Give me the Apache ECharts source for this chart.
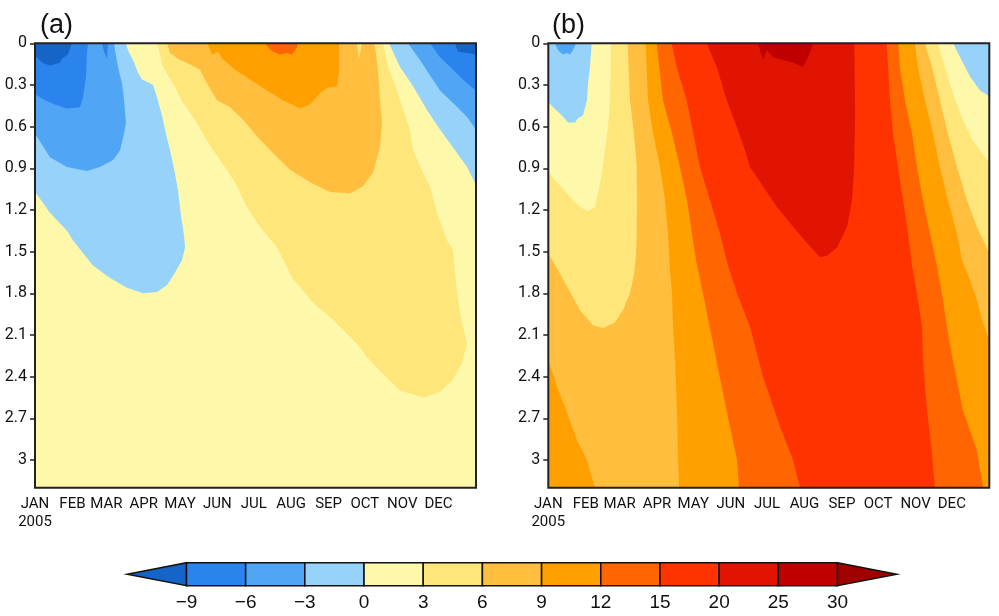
<!DOCTYPE html>
<html><head><meta charset="utf-8">
<script src="https://cdn.jsdelivr.net/npm/echarts@6/dist/echarts.min.js"></script>
<style>html,body{margin:0;padding:0;background:#fff}#c{width:999px;height:616px}</style>
</head><body><div id="c"></div>
<script>
// ---------- axes / ticks ----------
const monthStarts = [0,31,59,90,120,151,181,212,243,273,304,334];
const monthLabels = ['JAN','FEB','MAR','APR','MAY','JUN','JUL','AUG','SEP','OCT','NOV','DEC'];
const yearLabel = '2005';
const dayMin = 0, dayMax = 365;
const depthMin = 0, depthMax = 3.2;
const depthTicks = [0,0.3,0.6,0.9,1.2,1.5,1.8,2.1,2.4,2.7,3];
const depthTickLabels = ['0','0.3','0.6','0.9','1.2','1.5','1.8','2.1','2.4','2.7','3'];

// ---------- contour levels / colour bar ----------
const levelLabels = ['\u22129','\u22126','\u22123','0','3','6','9','12','15','20','25','30'];
// band 0: < -9 ... band 12: > 30
const levelColors = ['#1565C8','#2B84EE','#50A5F5','#97D2FA','#FEF8AA','#FFE67A','#FFBE3E','#FFA000','#FF6500','#FF3300','#E01400','#C00000','#A00000'];

// ---------- panel (a): contour regions, [day of year, depth] ----------
const a_ge3 = [[101,0],[105.9,0.17],[114.2,0.29],[122.5,0.43],[130.8,0.53],[139,0.65],[147.3,0.77],[158.9,0.91],[167.2,1.03],[175.5,1.18],[186.2,1.32],[200.3,1.47],[208.6,1.61],[213.5,1.7],[219.3,1.75],[230.1,1.87],[246.6,1.99],[267.3,2.17],[274.8,2.26],[288,2.38],[302.1,2.5],[321.1,2.55],[335.2,2.51],[346,2.42],[353.4,2.3],[357.6,2.16],[353.4,2.01],[350.1,1.85],[347.6,1.65],[346,1.49],[341,1.42],[332.7,1.22],[326.9,1.03],[321.1,0.93],[312.9,0.77],[310.4,0.62],[304.6,0.48],[299.6,0.34],[292.2,0.17],[288,0]];
const a_ge6 = [[109.3,0],[111.7,0.07],[120,0.12],[125.8,0.14],[136.6,0.19],[142.4,0.29],[150.6,0.41],[161.4,0.46],[172.2,0.55],[183.7,0.67],[197,0.79],[211.1,0.91],[227.6,1.0],[244.2,1.07],[260.7,1.08],[271.5,1.03],[279.8,0.93],[285.5,0.75],[287.2,0.57],[285.5,0.41],[283.9,0.21],[282.2,0.07],[280.6,0]];
const a_lt6_spike = [[266.5,0],[268.1,0.12],[270.6,0]];
const a_ge9 = [[142.4,0],[146.5,0.08],[151.5,0.06],[154.8,0.11],[165.5,0.19],[178,0.26],[192,0.34],[205.3,0.41],[219.3,0.47],[227.6,0.44],[235.9,0.36],[241.7,0.32],[249.9,0.31],[251.6,0.21],[251.6,0]];
const a_ge12 = [[190.4,0],[194,0.04],[197,0.06],[202.8,0.08],[208.6,0.07],[212.7,0.08],[216.8,0.03],[217.7,0]];
const a_lt0_left = [[0,0],[75.3,0],[77,0.05],[81.1,0.12],[85.2,0.21],[88.6,0.26],[93.5,0.28],[97.7,0.3],[101,0.39],[105.1,0.52],[107.6,0.62],[111.7,0.77],[115,0.9],[118.4,1.06],[120.8,1.24],[123.3,1.38],[124.2,1.47],[121.7,1.56],[115.9,1.65],[109.3,1.74],[101,1.79],[89.4,1.8],[76.1,1.76],[62.1,1.69],[48,1.6],[39.7,1.51],[31.5,1.42],[26.5,1.35],[12.4,1.22],[0.8,1.08],[0,1.08]];
const a_ltm3_left = [[0,0],[65.4,0],[66.2,0.05],[68.7,0.17],[72,0.29],[73.7,0.41],[75.3,0.57],[73.7,0.65],[70.4,0.77],[64.6,0.84],[53.8,0.89],[43,0.92],[26.5,0.89],[12.4,0.82],[0.8,0.66],[0,0.66]];
const a_ltm6_left = [[0,0],[43.9,0],[43,0.07],[42.2,0.24],[39.7,0.39],[37.2,0.46],[26.5,0.47],[16.6,0.44],[8.3,0.41],[0.8,0.37],[0,0.37]];
const a_ltm6_patch = [[55.5,0],[57.1,0.06],[59.6,0.11],[60.4,0]];
const a_ltm9_left = [[0,0],[0,0.1],[1.7,0.1],[5.8,0.14],[12.4,0.16],[20.7,0.14],[22.3,0.11],[27.3,0.08],[30.6,0]];
const a_lt0_right = [[293,0],[302.1,0.17],[312.9,0.31],[324.4,0.48],[335.2,0.62],[346,0.75],[357.6,0.89],[365,1.02],[365,0]];
const a_ltm3_right = [[308.7,0],[318.6,0.12],[326.9,0.23],[335.2,0.34],[346,0.43],[357.6,0.53],[365,0.62],[365,0]];
const a_ltm6_right = [[326.9,0],[335.2,0.1],[346,0.19],[357.6,0.29],[365,0.34],[365,0]];
const a_ltm9_right = [[347.6,0],[350.1,0.06],[357.6,0.07],[365,0.08],[365,0]];

// ---------- panel (b): contour regions, [day of year, depth] ----------
const b_lt0_left = [[0,0],[35.9,0],[34.5,0.17],[32.9,0.29],[32,0.41],[28.7,0.52],[24.6,0.54],[22.1,0.57],[16.3,0.57],[11.3,0.52],[3.9,0.46],[0,0.42]];
const b_ltm3_left = [[5.5,0],[8,0.05],[12.2,0.08],[15.5,0.07],[18,0.08],[20.4,0.05],[22.9,0]];
const b_lt0_right = [[335,0],[340.8,0.1],[349.1,0.24],[357.4,0.34],[363.1,0.37],[365,0.39],[365,0]];
const b_ge3 = [[51.9,0],[51.6,0.17],[51.1,0.41],[49.4,0.6],[46.9,0.77],[44.4,0.93],[41.1,1.08],[38.6,1.18],[32,1.21],[23.8,1.16],[15.5,1.08],[7.2,1.0],[0,0.93],[0,3.2],[365,3.2],[365,0.86],[351.3,0.7],[343.1,0.55],[334.8,0.36],[328.2,0.17],[322.4,0]];
const b_ge6 = [[65.7,0],[67.6,0.41],[70.9,0.65],[73.2,0.89],[73.4,1.13],[73.2,1.37],[72.6,1.52],[70.9,1.67],[67.6,1.8],[61.8,1.92],[55.2,2.01],[45.3,2.05],[37,2.03],[26.2,1.92],[15.5,1.75],[3.9,1.57],[0,1.52],[0,3.2],[365,3.2],[365,1.51],[354.7,1.32],[346.5,1.13],[338.2,0.89],[330.7,0.65],[324.1,0.41],[317.5,0.17],[311.7,0]];
const b_ge9 = [[80.6,0],[82.5,0.41],[86.7,0.65],[92.5,0.89],[96.6,1.13],[99.1,1.37],[100.7,1.63],[102.4,1.8],[103.2,2.04],[104.9,2.28],[106.5,2.64],[107.3,2.95],[108.2,3.2],[365,3.2],[365,2.14],[359.8,2.01],[354.7,1.85],[348.9,1.7],[342.3,1.56],[338.2,1.37],[330.7,1.13],[324.1,0.89],[318.4,0.65],[311.7,0.41],[305.9,0.17],[303.4,0]];
const b_ge9_corner = [[0,2.28],[7.2,2.47],[15.5,2.66],[23.8,2.86],[32,3.0],[38.6,3.2],[0,3.2]];
const b_ge12 = [[89.7,0],[94.9,0.41],[102.4,0.65],[109,0.89],[114.8,1.13],[118.9,1.37],[122.2,1.56],[128,1.8],[136.3,2.16],[144.6,2.52],[150.4,2.76],[156.2,3.0],[157.8,3.2],[359.8,3.2],[354.7,2.93],[343.1,2.64],[334.8,2.28],[329.9,2.04],[325.8,1.8],[321.6,1.6],[315.9,1.37],[310.1,1.13],[305.1,0.89],[301,0.65],[295.2,0.41],[291,0.17],[289.7,0]];
const b_ge15 = [[102.1,0],[106.3,0.17],[114.5,0.41],[120,0.65],[125.5,0.89],[133.8,1.13],[142.1,1.37],[148.7,1.6],[156.2,1.8],[166.9,2.04],[177.7,2.4],[191.8,2.76],[202.6,3.0],[208.3,3.2],[320,3.2],[317.5,2.95],[313.4,2.64],[310.1,2.28],[309.3,2.04],[305.1,1.8],[301,1.6],[297.7,1.37],[293.6,1.13],[289.4,0.89],[285.3,0.65],[282.8,0.41],[280.1,0]];
const b_ge20 = [[131.1,0],[139.4,0.17],[147.7,0.41],[155.9,0.6],[162.8,0.77],[166.9,0.89],[177.7,1.03],[189.3,1.18],[202.6,1.32],[214.2,1.44],[224.9,1.54],[230.7,1.53],[239,1.47],[247.3,1.32],[251.4,1.13],[253.1,0.89],[253.9,0.53],[253.3,0]];
const b_ge25 = [[173.6,0],[175.2,0.05],[177.7,0.12],[181,0.05],[186,0.1],[194.2,0.12],[202.6,0.14],[210.8,0.17],[215,0.1],[218.3,0.03],[219.1,0]];

// layer lists: [region, colour band]
const panelA = [[a_ge3,5],[a_ge6,6],[a_lt6_spike,5],[a_ge9,7],[a_ge12,8],[a_lt0_left,3],[a_ltm3_left,2],[a_ltm6_left,1],[a_ltm6_patch,1],[a_ltm9_left,0],[a_lt0_right,3],[a_ltm3_right,2],[a_ltm6_right,1],[a_ltm9_right,0]];
const panelB = [[b_lt0_left,3],[b_ltm3_left,2],[b_lt0_right,3],[b_ge3,5],[b_ge6,6],[b_ge9,7],[b_ge9_corner,7],[b_ge12,8],[b_ge15,9],[b_ge20,10],[b_ge25,11]];
const backgroundBand = 4;

// ---------- build chart ----------
const chart = echarts.init(document.getElementById('c'), null, {renderer:'canvas'});
const TXT = '#111';
const AXFONT = "Roboto, 'Liberation Sans', sans-serif";
const pxPerDepth = 138.9;
const plotH = (depthMax - depthMin) * pxPerDepth;

function grid(left){ return {left:left, top:43.3, width:441, height:plotH, show:true, borderColor:'#222', borderWidth:2, backgroundColor:'transparent', z:10}; }

function xMain(gi){
  return {type:'value', gridIndex:gi, min:dayMin, max:dayMax,
    axisLine:{show:false}, splitLine:{show:false},
    axisTick:{show:true, customValues:monthStarts, length:4, lineStyle:{color:'#222', width:1.5}},
    axisLabel:{customValues:monthStarts, margin:7, color:TXT, fontFamily:AXFONT, fontSize:15, lineHeight:18,
      formatter:function(v){ const i = monthStarts.indexOf(v); return i === 0 ? monthLabels[0] + '\n' + yearLabel : monthLabels[i]; }}};
}
function yMain(gi){
  return {type:'value', gridIndex:gi, min:depthMin, max:depthMax, inverse:true,
    axisLine:{show:false}, splitLine:{show:false},
    axisTick:{show:true, customValues:depthTicks, length:5, lineStyle:{color:'#222', width:1.5}},
    axisLabel:{customValues:depthTicks, margin:8, color:TXT, fontFamily:AXFONT, fontSize:16,
      formatter:function(v){ const i = depthTicks.findIndex(t => Math.abs(t - v) < 1e-6); return i >= 0 ? depthTickLabels[i] : ''; }}};
}
function polySeries(gi, pts, band){
  return {type:'custom', coordinateSystem:'cartesian2d', xAxisIndex:gi, yAxisIndex:gi, data:pts, silent:true, clip:true, animation:false,
    renderItem:function(params, api){
      if (params.dataIndex !== 0) return;
      const points = pts.map(p => api.coord(p));
      return {type:'polygon', shape:{points:points}, style:{fill:levelColors[band], stroke:null}};
    }};
}
function panelSeries(gi, layers){
  const bg = [[dayMin,depthMin],[dayMax,depthMin],[dayMax,depthMax],[dayMin,depthMax]];
  const out = [polySeries(gi, bg, backgroundBand)];
  layers.forEach(l => out.push(polySeries(gi, l[0], l[1])));
  return out;
}

// colour bar: x positions -1..12 (triangles at ends)
const cbarData = levelColors.map((c, i) => [i - 1]);
const cbarSeries = {type:'custom', coordinateSystem:'cartesian2d', xAxisIndex:2, yAxisIndex:2, data:cbarData, silent:true, animation:false, clip:false,
  renderItem:function(params, api){
    const i = api.value(0);
    const n = levelColors.length - 2;
    const st = {fill:levelColors[params.dataIndex], stroke:'#111', lineWidth:1.5};
    if (i < 0) {
      const tip = api.coord([i, 0.5]), a = api.coord([i + 1, 1]), b = api.coord([i + 1, 0]);
      return {type:'polygon', shape:{points:[tip, a, b]}, style:st};
    }
    if (i >= n) {
      const a = api.coord([i, 1]), tip = api.coord([i + 1, 0.5]), b = api.coord([i, 0]);
      return {type:'polygon', shape:{points:[a, tip, b]}, style:st};
    }
    const p0 = api.coord([i, 1]), p1 = api.coord([i + 1, 0]);
    return {type:'rect', shape:{x:p0[0], y:p0[1], width:p1[0] - p0[0], height:p1[1] - p0[1]}, style:st};
  }};
const cbarTicks = levelLabels.map((s, i) => i);

const option = {
  backgroundColor:'#fff',
  animation:false,
  title:[
    {text:'(a)', left:35, top:7, textStyle:{fontFamily:'Liberation Sans', fontSize:27, fontWeight:'normal', color:TXT}},
    {text:'(b)', left:547, top:7, textStyle:{fontFamily:'Liberation Sans', fontSize:27, fontWeight:'normal', color:TXT}}
  ],
  grid:[grid(35), grid(548.3), {left:127.3, top:562.7, width:769.4, height:23, show:false}],
  xAxis:[xMain(0), xMain(1),
    {type:'value', gridIndex:2, min:-1, max:levelLabels.length, axisLine:{show:false}, axisTick:{show:false}, splitLine:{show:false},
     axisLabel:{customValues:cbarTicks, margin:8, color:TXT, fontFamily:'Liberation Sans', fontSize:19, formatter:function(v){ return levelLabels[Math.round(v)]; }}}],
  yAxis:[yMain(0), yMain(1),
    {type:'value', gridIndex:2, min:0, max:1, show:false}],
  series:[].concat(panelSeries(0, panelA), panelSeries(1, panelB), [cbarSeries])
};
chart.setOption(option);
</script></body></html>
